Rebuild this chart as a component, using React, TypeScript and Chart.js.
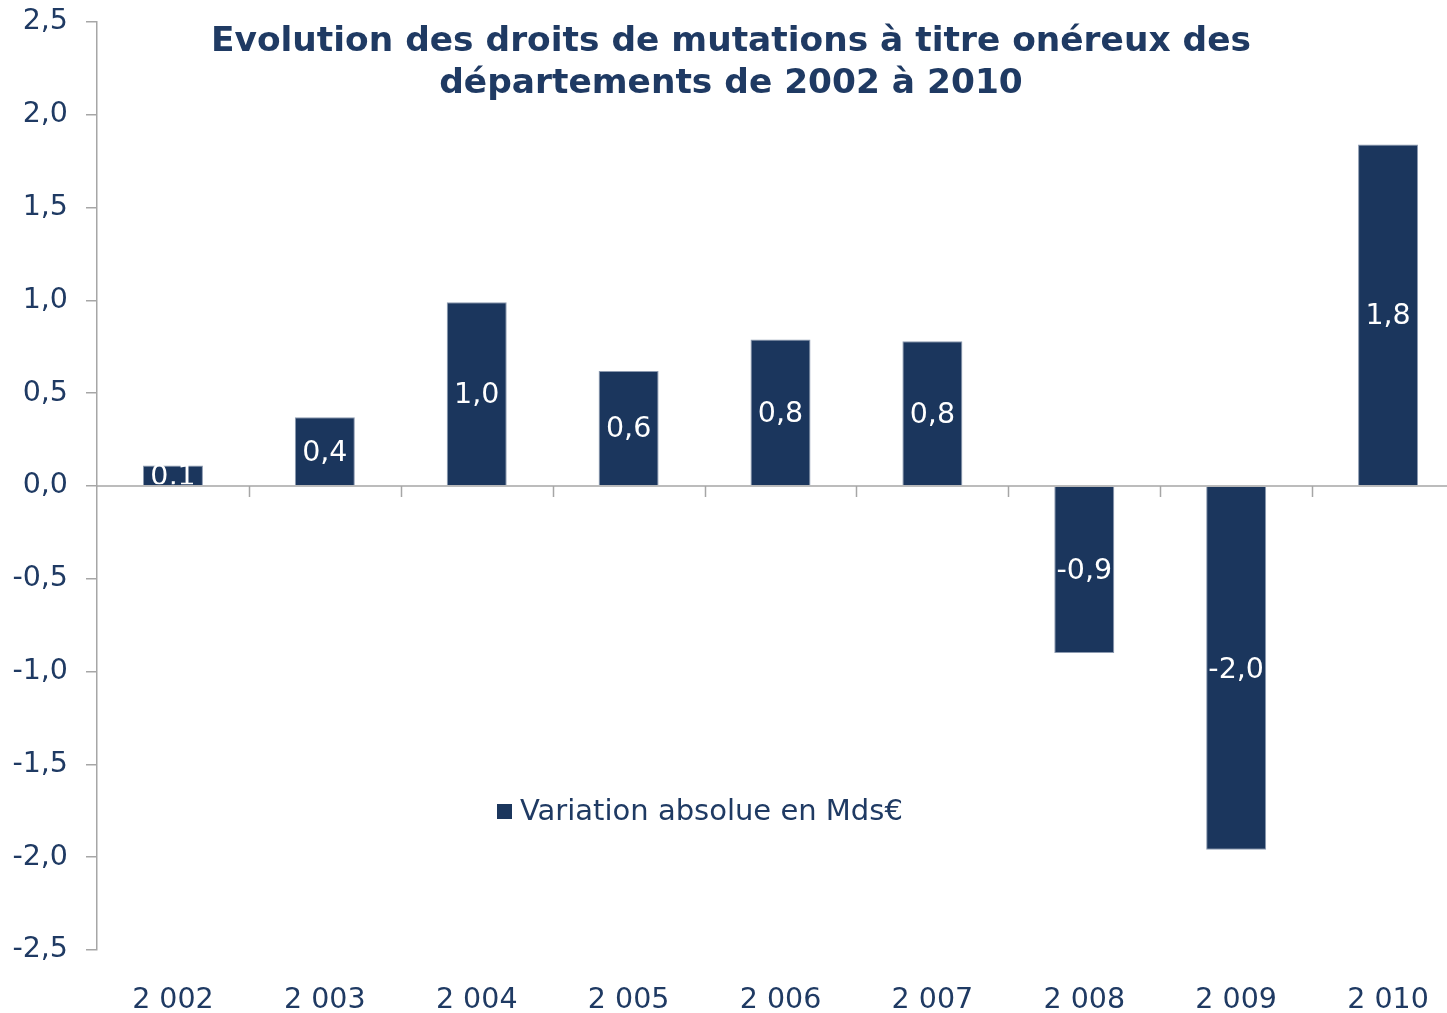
import React, { useEffect, useRef } from "react";
import { Chart, registerables } from "chart.js";

Chart.register(...registerables);

const categories = ["2 002", "2 003", "2 004", "2 005", "2 006", "2 007", "2 008", "2 009", "2 010"];
const values = [0.11, 0.37, 0.99, 0.62, 0.79, 0.78, -0.9, -1.96, 1.84];
const seriesName = "Variation absolue en Mds€";
const titleLines = ["Evolution des droits de mutations à titre onéreux des", "départements de 2002 à 2010"];
const yMin = -2.5;
const yMax = 2.5;

const NAVY = "#1B365D";
const TEXT = "#1F3A63";
const GRAY = "#A6A6A6";
const FONT = "DejaVu Sans";

const fmt = (v: number) => v.toFixed(1).replace(".", ",");

const overlayPlugin = {
  id: "overlay",
  afterDatasetsDraw(chart: any) {
    const ctx = chart.ctx;
    const xs = chart.scales.x;
    const ys = chart.scales.y;
    const y0 = ys.getPixelForValue(0);
    // zero line + category tick marks
    ctx.save();
    ctx.strokeStyle = GRAY;
    ctx.lineWidth = 1.5;
    ctx.beginPath();
    ctx.moveTo(chart.chartArea.left, y0);
    ctx.lineTo(chart.chartArea.right, y0);
    for (let i = 1; i < categories.length; i++) {
      const x = Math.round((xs.getPixelForValue(i - 1) + xs.getPixelForValue(i)) / 2) + 0.5;
      ctx.moveTo(x, y0);
      ctx.lineTo(x, y0 + 11);
    }
    ctx.stroke();
    ctx.restore();

    // data labels
    const meta = chart.getDatasetMeta(0);
    meta.data.forEach((bar: any, i: number) => {
      const top = Math.min(bar.y, bar.base);
      const bottom = Math.max(bar.y, bar.base);
      const w = bar.width;
      ctx.save();
      ctx.beginPath();
      ctx.rect(bar.x - w / 2, top - 4, w, bottom - top + 3);
      ctx.clip();
      ctx.fillStyle = "#FFFFFF";
      ctx.font = `28.5px "${FONT}"`;
      ctx.textAlign = "center";
      ctx.textBaseline = "middle";
      ctx.fillText(fmt(values[i]), bar.x, (top + bottom) / 2 + 2);
      ctx.restore();
    });

    // title
    ctx.save();
    ctx.fillStyle = TEXT;
    ctx.font = `bold 34.4px "${FONT}"`;
    ctx.textAlign = "center";
    ctx.textBaseline = "middle";
    ctx.fillText(titleLines[0], 731, 42);
    ctx.fillText(titleLines[1], 731, 84);
    ctx.restore();

    // legend
    ctx.save();
    ctx.fillStyle = NAVY;
    ctx.fillRect(497, 804, 15, 15);
    ctx.fillStyle = TEXT;
    ctx.font = `29px "${FONT}"`;
    ctx.textAlign = "left";
    ctx.textBaseline = "middle";
    ctx.fillText(chart.data.datasets[0].label, 520, 812);
    ctx.restore();
  },
};

export default function App() {
  const ref = useRef<HTMLCanvasElement | null>(null);
  useEffect(() => {
    if (!ref.current) return;
    const chart = new Chart(ref.current, {
      type: "bar",
      data: {
        labels: categories,
        datasets: [
          {
            label: seriesName,
            data: values,
            backgroundColor: NAVY,
            borderColor: "#8C9AB0",
            borderWidth: 1,
            barPercentage: 0.395,
            categoryPercentage: 1,
          },
        ],
      },
      options: {
        responsive: false,
        animation: false,
        layout: { padding: { top: 22, left: 0, right: 0, bottom: 0 } },
        plugins: {
          legend: { display: false },
          title: { display: false },
          tooltip: { enabled: false },
        },
        scales: {
          x: {
            grid: { display: false, drawTicks: false },
            border: { display: false },
            ticks: {
              color: TEXT,
              font: { family: FONT, size: 28.5 },
              padding: 33,
              maxRotation: 0,
            },
            afterFit: (s: any) => {
              s.height = 63;
              s.paddingLeft = 0;
              s.paddingRight = 0;
            },
          },
          y: {
            min: yMin,
            max: yMax,
            grid: {
              color: () => "transparent",
              tickColor: GRAY,
              tickLength: 11,
              lineWidth: 1.5,
            },
            border: { display: true, color: GRAY, width: 1.5 },
            ticks: {
              stepSize: 0.5,
              color: TEXT,
              font: { family: FONT, size: 28.5 },
              padding: 18,
              callback: (v: any) => fmt(Number(v)),
            },
            afterFit: (s: any) => {
              s.width = 97;
              s.paddingTop = 0;
              s.paddingBottom = 0;
            },
          },
        },
      },
      plugins: [overlayPlugin],
    });
    return () => chart.destroy();
  }, []);
  return (
    <div style={{ position: "fixed", left: 0, top: 0, width: 1447, height: 1013, overflow: "hidden", background: "#fff" }}>
      <canvas ref={ref} width={1464} height={1013} style={{ display: "block" }} />
    </div>
  );
}
